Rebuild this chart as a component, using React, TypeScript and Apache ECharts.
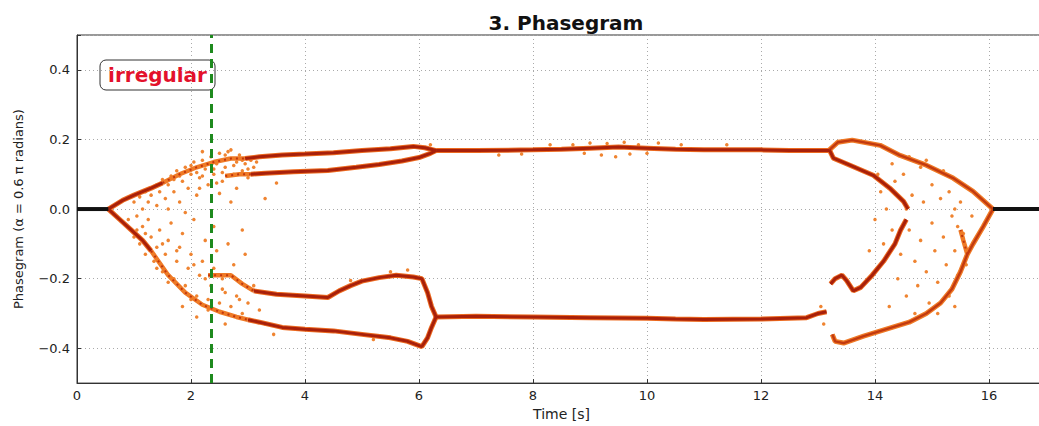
import React, { useEffect, useRef } from "react";
import * as echarts from "echarts";

// ---- data ----
const title = "3. Phasegram";
const xName = "Time [s]";
const yName = "Phasegram (α = 0.6 π radians)";
const annotation = "irregular";
const markerTime = 2.35;

const steadyLeft = [[0, 0], [0.55, 0]];
const steadyRight = [[16.07, 0], [17, 0]];

// dense (dark-cored) branches
const upperLeftEdge = [[0.55, 0], [0.8, 0.025], [1.0, 0.04], [1.3, 0.06], [1.5, 0.075]];
const lowerLeftEdge = [[0.55, 0], [0.75, -0.03], [0.95, -0.06], [1.15, -0.09], [1.3, -0.12]];
const upperA = [[2.95, 0.145], [3.2, 0.15], [3.6, 0.155], [4.0, 0.158], [4.5, 0.162], [5.0, 0.168], [5.5, 0.173], [5.9, 0.18], [6.1, 0.176], [6.3, 0.168]];
const upperB = [[3.05, 0.1], [3.3, 0.103], [3.8, 0.107], [4.4, 0.111], [4.9, 0.12], [5.3, 0.128], [5.7, 0.138], [6.0, 0.148], [6.2, 0.16], [6.3, 0.168]];
const midUpper = [[6.3, 0.168], [7.0, 0.168], [8.0, 0.17], [8.5, 0.172], [9.0, 0.175], [9.5, 0.178], [10.0, 0.175], [10.5, 0.172], [11.0, 0.17], [12.0, 0.17], [12.5, 0.168], [13.2, 0.168]];
const rightUpperOuter = [[13.2, 0.17], [13.35, 0.192], [13.6, 0.198], [14.09, 0.183], [14.44, 0.154], [14.9, 0.126], [15.37, 0.089], [15.72, 0.051], [16.07, 0.0]];
const rightUpperInner = [[13.2, 0.17], [13.27, 0.146], [13.56, 0.126], [13.97, 0.097], [14.26, 0.06], [14.5, 0.022], [14.58, 0.0]];
const rightHook = [[14.55, -0.03], [14.45, -0.06], [14.35, -0.1], [14.15, -0.15], [13.95, -0.19], [13.75, -0.225], [13.62, -0.235], [13.5, -0.205], [13.42, -0.19], [13.3, -0.2], [13.22, -0.215]];
const rightLowerOuter = [[16.07, 0], [15.9, -0.05], [15.72, -0.1], [15.62, -0.13], [15.5, -0.18], [15.35, -0.23], [15.15, -0.27], [14.9, -0.3], [14.6, -0.325], [14.2, -0.345], [13.8, -0.365], [13.45, -0.385], [13.3, -0.38], [13.25, -0.36]];
const midLower = [[6.3, -0.31], [7.0, -0.308], [8.0, -0.31], [9.0, -0.312], [10.0, -0.314], [10.5, -0.316], [11.0, -0.317], [12.0, -0.316], [12.8, -0.312], [13.0, -0.3], [13.15, -0.295]];
const lowerLeftInner = [[3.1, -0.235], [3.5, -0.245], [4.0, -0.25], [4.4, -0.254], [4.6, -0.235], [4.8, -0.22], [5.0, -0.207], [5.3, -0.197], [5.6, -0.19], [5.9, -0.195], [6.05, -0.2], [6.15, -0.24], [6.22, -0.28], [6.3, -0.31]];
const lowerLeftOuter = [[3.0, -0.318], [3.2, -0.325], [3.6, -0.34], [4.0, -0.345], [4.5, -0.35], [5.0, -0.36], [5.5, -0.37], [5.8, -0.38], [6.05, -0.395], [6.15, -0.37], [6.22, -0.34], [6.3, -0.31]];

// fuzzy (speckled orange) stretches
const upperLeftFuzzy = [[1.5, 0.075], [1.8, 0.1], [2.1, 0.12], [2.4, 0.135], [2.7, 0.145], [2.95, 0.145]];
const lowerLeftOuterFuzzy = [[1.3, -0.12], [1.6, -0.19], [1.9, -0.24], [2.2, -0.275], [2.5, -0.295], [2.8, -0.31], [3.0, -0.318]];
const lowerLeftInnerFuzzy = [[2.3, -0.19], [2.7, -0.19], [2.9, -0.215], [3.1, -0.235]];
const upperBFuzzy = [[2.6, 0.095], [2.85, 0.1], [3.05, 0.1]];
const rightInnerFuzzy = [[15.62, -0.13], [15.55, -0.09], [15.5, -0.06]];

const upperCloud = [
  [1.0, 0.02], [1.1, 0.035], [1.2, 0.05], [1.25, 0.02], [1.3, 0.04], [1.35, 0.065], [1.4, 0.01], [1.45, 0.05],
  [1.5, 0.085], [1.55, 0.03], [1.6, 0.07], [1.65, 0.095], [1.7, 0.05], [1.75, 0.11], [1.8, 0.02], [1.85, 0.08],
  [1.9, 0.12], [1.95, 0.06], [2.0, 0.1], [2.05, 0.135], [2.1, 0.04], [2.15, 0.09], [2.2, 0.14], [2.25, 0.115],
  [2.3, 0.07], [2.35, 0.15], [2.4, 0.1], [2.45, 0.13], [2.5, 0.16], [2.55, 0.08], [2.6, 0.12], [2.65, 0.145],
  [2.7, 0.17], [2.75, 0.1], [2.8, 0.135], [2.85, 0.155], [2.9, 0.11], [2.95, 0.13], [3.0, 0.09], [3.05, 0.14],
  [3.1, 0.12], [2.2, 0.165], [2.5, 0.045], [2.8, 0.06], [3.3, 0.03], [3.5, 0.075], [1.6, 0.0], [1.9, -0.01],
  [2.7, 0.02], [1.15, 0.0], [2.0, 0.125], [2.3, 0.13], [2.6, 0.155], [2.9, 0.14], [1.8, 0.095], [1.4, 0.07],
  [1.7, 0.085], [2.1, 0.105], [2.4, 0.115], [2.75, 0.125], [3.0, 0.115], [2.55, 0.105], [2.2, 0.095], [1.95, 0.11],
  [2.65, 0.165], [3.15, 0.135], [2.45, 0.075], [2.15, 0.06]
];
const lowerCloud = [
  [0.9, -0.03], [1.0, -0.08], [1.05, -0.02], [1.1, -0.1], [1.15, -0.05], [1.2, -0.13], [1.25, -0.03], [1.3, -0.08],
  [1.35, -0.15], [1.4, -0.11], [1.45, -0.06], [1.5, -0.18], [1.55, -0.13], [1.6, -0.09], [1.65, -0.04], [1.7, -0.2],
  [1.75, -0.15], [1.8, -0.11], [1.85, -0.07], [1.9, -0.22], [1.95, -0.17], [2.0, -0.13], [2.05, -0.03], [2.1, -0.25],
  [2.15, -0.19], [2.2, -0.15], [2.25, -0.09], [2.3, -0.26], [2.35, -0.22], [2.4, -0.17], [2.45, -0.12], [2.5, -0.27],
  [2.55, -0.2], [2.6, -0.24], [2.65, -0.1], [2.7, -0.28], [2.75, -0.16], [2.8, -0.25], [2.9, -0.3], [2.95, -0.13],
  [3.0, -0.27], [3.1, -0.22], [3.2, -0.29], [3.3, -0.33], [2.6, -0.33], [2.4, -0.05], [1.85, -0.28], [2.1, -0.31],
  [3.45, -0.36], [2.9, -0.06], [1.6, -0.21], [2.0, -0.26], [2.3, -0.29], [1.4, -0.17], [1.2, -0.07], [1.5, -0.1],
  [1.75, -0.12], [2.05, -0.16], [2.25, -0.2], [2.55, -0.23], [2.85, -0.26], [1.05, -0.06]
];
const rightCloud = [
  [14.0, -0.03], [14.1, 0.05], [14.15, -0.1], [14.2, 0.0], [14.3, -0.06], [14.35, 0.08], [14.4, -0.2], [14.45, -0.13],
  [14.5, 0.1], [14.55, -0.25], [14.6, -0.06], [14.65, 0.04], [14.7, -0.15], [14.75, -0.22], [14.8, 0.12], [14.8, -0.09],
  [14.85, 0.02], [14.9, -0.18], [14.95, -0.27], [15.0, 0.07], [15.0, -0.04], [15.05, -0.12], [15.1, -0.21], [15.15, 0.03],
  [15.2, -0.08], [15.25, -0.16], [15.3, 0.05], [15.3, -0.25], [15.35, -0.02], [15.4, -0.12], [15.45, -0.19], [15.5, 0.02],
  [15.55, -0.07], [15.6, -0.16], [14.3, 0.13], [14.6, 0.15], [14.9, 0.14], [15.2, 0.11], [15.7, -0.02], [14.25, -0.28],
  [14.7, -0.3], [15.4, -0.28], [14.05, 0.1], [14.55, 0.0], [15.1, -0.3], [13.9, -0.12], [15.45, -0.05], [15.4, 0.0]
];
const midNoise = [
  [8.7, 0.185], [8.9, 0.16], [9.0, 0.19], [9.2, 0.155], [9.3, 0.188], [9.45, 0.15], [9.6, 0.192], [9.7, 0.158],
  [9.85, 0.185], [10.0, 0.16], [10.2, 0.19], [7.4, 0.155], [7.8, 0.158], [8.3, 0.185], [10.6, 0.185], [11.4, 0.185],
  [5.5, -0.18], [5.8, -0.175], [4.8, -0.205], [13.1, -0.33], [13.05, -0.28], [6.2, 0.185], [5.2, -0.375]
];

const denseBands = [upperLeftEdge, lowerLeftEdge, upperA, upperB, midUpper, rightUpperInner, rightHook,
  midLower, lowerLeftInner, lowerLeftOuter];
const orangeBands = [rightUpperOuter, rightLowerOuter];
const fuzzyBands = [upperLeftFuzzy, lowerLeftOuterFuzzy, lowerLeftInnerFuzzy, upperBFuzzy, rightInnerFuzzy];
const clouds = [upperCloud, lowerCloud, rightCloud, midNoise];

const FONT = "DejaVu Sans";

export default function App() {
  const ref = useRef<HTMLDivElement>(null);
  useEffect(() => {
    if (!ref.current) return;
    const chart = echarts.init(ref.current, null, { renderer: "svg" });
    const series: any[] = [];
    clouds.forEach((c) =>
      series.push({
        type: "scatter",
        data: c,
        symbolSize: 3.5,
        itemStyle: { color: "#ee7d26", opacity: 0.95 },
        z: 2,
        silent: true,
      })
    );
    fuzzyBands.forEach((b) => {
      series.push({
        type: "line",
        data: b,
        showSymbol: false,
        lineStyle: { color: "#ef7a26", width: 4.5 },
        z: 3,
        silent: true,
      });
      series.push({
        type: "line",
        data: b,
        showSymbol: false,
        lineStyle: { color: "#c0360e", width: 2, type: [2, 4] },
        z: 4,
        silent: true,
      });
    });
    orangeBands.forEach((b) => {
      series.push({
        type: "line",
        data: b,
        showSymbol: false,
        lineStyle: { color: "#ef7a26", width: 5 },
        z: 3,
        silent: true,
      });
      series.push({
        type: "line",
        data: b,
        showSymbol: false,
        lineStyle: { color: "#c23a10", width: 2.4 },
        z: 4,
        silent: true,
      });
    });
    denseBands.forEach((b) => {
      series.push({
        type: "line",
        data: b,
        showSymbol: false,
        lineStyle: { color: "#ec6a20", width: 5 },
        z: 3,
        silent: true,
      });
      series.push({
        type: "line",
        data: b,
        showSymbol: false,
        lineStyle: { color: "#a8200a", width: 3 },
        z: 4,
        silent: true,
      });
    });
    [steadyLeft, steadyRight].forEach((s) =>
      series.push({
        type: "line",
        data: s,
        showSymbol: false,
        lineStyle: { color: "#111", width: 4 },
        z: 5,
        silent: true,
      })
    );
    series.push({
      type: "line",
      data: [],
      z: 8,
      markLine: {
        silent: true,
        symbol: "none",
        label: { show: false },
        lineStyle: { color: "#1e8a1e", width: 3, type: [9, 6] },
        data: [{ xAxis: markerTime }],
      },
    });

    chart.setOption({
      animation: false,
      title: {
        text: title,
        left: 561,
        top: 8,
        textAlign: "center",
        textStyle: { fontFamily: FONT, fontWeight: "bold", fontSize: 20, color: "#111" },
      },
      grid: { left: 77, right: 4, top: 35, bottom: 40, show: true, borderColor: "#333", borderWidth: 1, backgroundColor: "#fff" },
      xAxis: {
        type: "value",
        min: 0,
        max: 17,
        interval: 2,
        name: xName,
        nameLocation: "middle",
        nameGap: 18,
        nameTextStyle: { fontFamily: FONT, fontSize: 14, color: "#222" },
        axisLine: { onZero: false, lineStyle: { color: "#333" } },
        axisTick: { inside: true, length: 4, lineStyle: { color: "#333" } },
        axisLabel: {
          fontFamily: FONT,
          fontSize: 13,
          color: "#222",
          margin: 6,
          formatter: (v: number) => (v % 2 === 0 && v <= 16 ? String(v) : ""),
        },
        splitLine: { show: true, lineStyle: { color: "#aaa", type: [1, 3], width: 1 } },
      },
      yAxis: {
        type: "value",
        min: -0.5,
        max: 0.5,
        splitNumber: 5,
        name: yName,
        nameLocation: "middle",
        nameGap: 52,
        nameTextStyle: { fontFamily: FONT, fontSize: 13, color: "#222" },
        axisLine: { show: true, onZero: false, lineStyle: { color: "#333" } },
        axisTick: { show: true, inside: true, length: 4, lineStyle: { color: "#333" } },
        axisLabel: {
          fontFamily: FONT,
          fontSize: 13,
          color: "#222",
          margin: 7,
          formatter: (v: number) => (Math.abs(v) > 0.45 ? "" : v.toFixed(1).replace("-", "−")),
        },
        splitLine: { show: true, lineStyle: { color: "#aaa", type: [1, 3], width: 1 } },
      },
      graphic: [
        {
          type: "group",
          z: 20,
          children: [
            {
              type: "rect",
              shape: { x: 100, y: 60, width: 115, height: 30, r: 6 },
              style: { fill: "#fff", stroke: "#333", lineWidth: 1 },
            },
            {
              type: "text",
              x: 157.5,
              y: 75,
              style: {
                text: annotation,
                fill: "#e3112b",
                font: `bold 20px "${FONT}"`,
                textAlign: "center",
                textVerticalAlign: "middle",
              },
            },
          ],
        },
      ],
      series,
    });
    return () => chart.dispose();
  }, []);
  return (
    <div
      ref={ref}
      style={{ position: "fixed", left: 0, top: 0, width: 1050, height: 426, background: "#fff" }}
    />
  );
}
